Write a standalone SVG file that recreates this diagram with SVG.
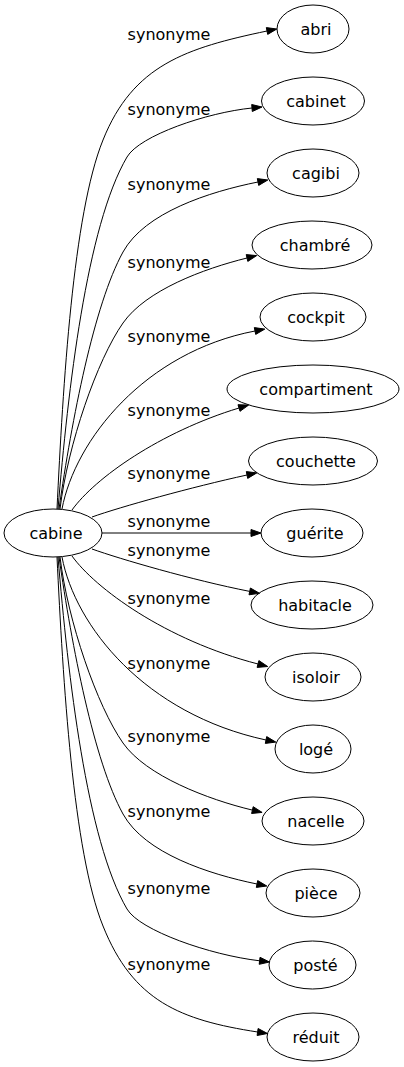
<svg xmlns="http://www.w3.org/2000/svg" width="404" height="1067" viewBox="0 0 404 1067">
<style>
.n ellipse{fill:none;stroke:#000;stroke-width:1}
.n text{font-family:"DejaVu Sans",sans-serif;font-size:16px;text-anchor:middle;fill:#000}
#edges path{fill:none;stroke:#000;stroke-width:1}
#edges polygon{fill:#000;stroke:#000;stroke-width:1}
#edges text{font-family:"DejaVu Sans",sans-serif;font-size:16px;text-anchor:middle;fill:#000}
</style>
<rect width="404" height="1067" fill="#fff"/>
<g id="edges">
<path d="M57,509 C63,385 73,214 103,140 C133,65 186,48 267,31"/><polygon points="276.8,29 267.7,34.4 266.3,27.6"/>
<text x="169" y="39.5">synonyme</text>
<path d="M58,509 C68,390 86.5,226 127,157 C139.6,135.5 207,112.5 252,108"/><polygon points="262,107 252.3,111.5 251.7,104.5"/>
<text x="169" y="114.5">synonyme</text>
<path d="M59,509 C71.7,420 94,304.6 123,252 C144.7,212.6 209,191.8 258,182"/><polygon points="267.8,180 258.7,185.4 257.3,178.6"/>
<text x="169" y="189.5">synonyme</text>
<path d="M60,509 C67.8,444.6 97.1,359.9 123,323 C146,290.2 203.4,268.8 247,258"/><polygon points="256.7,255.6 247.8,261.4 246.2,254.6"/>
<text x="169" y="267.5">synonyme</text>
<path d="M62,509 C75,440 145,352 255,331"/><polygon points="264.8,329.1 255.7,334.4 254.3,327.6"/>
<text x="169" y="341.5">synonyme</text>
<path d="M72,510 C95,478 160,432 239,408"/><polygon points="248.6,405.1 240,411.3 238,404.7"/>
<text x="169" y="416">synonyme</text>
<path d="M92,517 C120,507 192,487 247,475"/><polygon points="256.8,472.9 247.7,478.4 246.3,471.6"/>
<text x="169" y="478.5">synonyme</text>
<path d="M102,533 L251,533"/><polygon points="261,533 251,536.5 251,529.5"/>
<text x="169" y="526.5">synonyme</text>
<path d="M92,549 C120,559 192,580 249.7,591.4"/><polygon points="259.5,593.3 249,594.8 250.4,588"/>
<text x="169" y="555.5">synonyme</text>
<path d="M72,556 C95,588 165,640 258,664"/><polygon points="267.7,666.5 257.1,667.4 258.9,660.6"/>
<text x="169" y="603.5">synonyme</text>
<path d="M62,557 C75,626 145,714 266,740"/><polygon points="275.8,742.1 265.3,743.4 266.7,736.6"/>
<text x="169" y="668.5">synonyme</text>
<path d="M60,557 C67.8,621.4 97.1,706.1 123,743 C146,775.8 208,799.5 252.4,810.1"/><polygon points="262.1,812.4 251.6,813.5 253.2,806.7"/>
<text x="169" y="741.5">synonyme</text>
<path d="M59,557 C71.7,646 94,761.4 123,814 C144.7,853.4 209,874.2 257,884"/><polygon points="266.8,886 256.3,887.4 257.7,880.6"/>
<text x="169" y="816.5">synonyme</text>
<path d="M58,557 C68,676 86.5,840 127,909 C139.6,930.5 210,955 259.6,960.8"/><polygon points="269.5,962 259.2,964.3 260,957.3"/>
<text x="169" y="893.5">synonyme</text>
<path d="M57,557 C63,681 73,852 103,926 C133,1001 180,1020 257.6,1032"/><polygon points="267.5,1033.5 257.1,1035.5 258.1,1028.5"/>
<text x="169" y="969.5">synonyme</text>
</g>
<g id="cabine" class="n"><ellipse cx="53" cy="533" rx="49" ry="24"/><text x="56" y="538.5">cabine</text></g>
<g id="abri" class="n"><ellipse cx="313" cy="29" rx="36" ry="24"/><text x="316" y="34.5">abri</text></g>
<g id="cabinet" class="n"><ellipse cx="313" cy="101" rx="51.5" ry="24"/><text x="316" y="106.5">cabinet</text></g>
<g id="cagibi" class="n"><ellipse cx="313" cy="173" rx="46" ry="24"/><text x="316" y="178.5">cagibi</text></g>
<g id="chambre" class="n"><ellipse cx="312" cy="245" rx="60" ry="24"/><text x="315" y="250.5">chambré</text></g>
<g id="cockpit" class="n"><ellipse cx="313" cy="317" rx="53" ry="24"/><text x="316" y="322.5">cockpit</text></g>
<g id="compartiment" class="n"><ellipse cx="313" cy="389" rx="86" ry="24"/><text x="316" y="394.5">compartiment</text></g>
<g id="couchette" class="n"><ellipse cx="313" cy="461" rx="64.5" ry="24"/><text x="316" y="466.5">couchette</text></g>
<g id="guerite" class="n"><ellipse cx="312" cy="533" rx="51" ry="24"/><text x="315" y="538.5">guérite</text></g>
<g id="habitacle" class="n"><ellipse cx="312" cy="605" rx="61" ry="24"/><text x="315" y="610.5">habitacle</text></g>
<g id="isoloir" class="n"><ellipse cx="313" cy="677" rx="48" ry="24"/><text x="316" y="682.5">isoloir</text></g>
<g id="loge" class="n"><ellipse cx="313" cy="749" rx="38" ry="24"/><text x="316" y="754.5">logé</text></g>
<g id="nacelle" class="n"><ellipse cx="313" cy="821" rx="51" ry="24"/><text x="316" y="826.5">nacelle</text></g>
<g id="piece" class="n"><ellipse cx="313" cy="893" rx="47" ry="24"/><text x="316" y="898.5">pièce</text></g>
<g id="poste" class="n"><ellipse cx="312.5" cy="965" rx="43.5" ry="24"/><text x="315.5" y="970.5">posté</text></g>
<g id="reduit" class="n"><ellipse cx="313" cy="1037" rx="46" ry="24"/><text x="316" y="1042.5">réduit</text></g>
</svg>
